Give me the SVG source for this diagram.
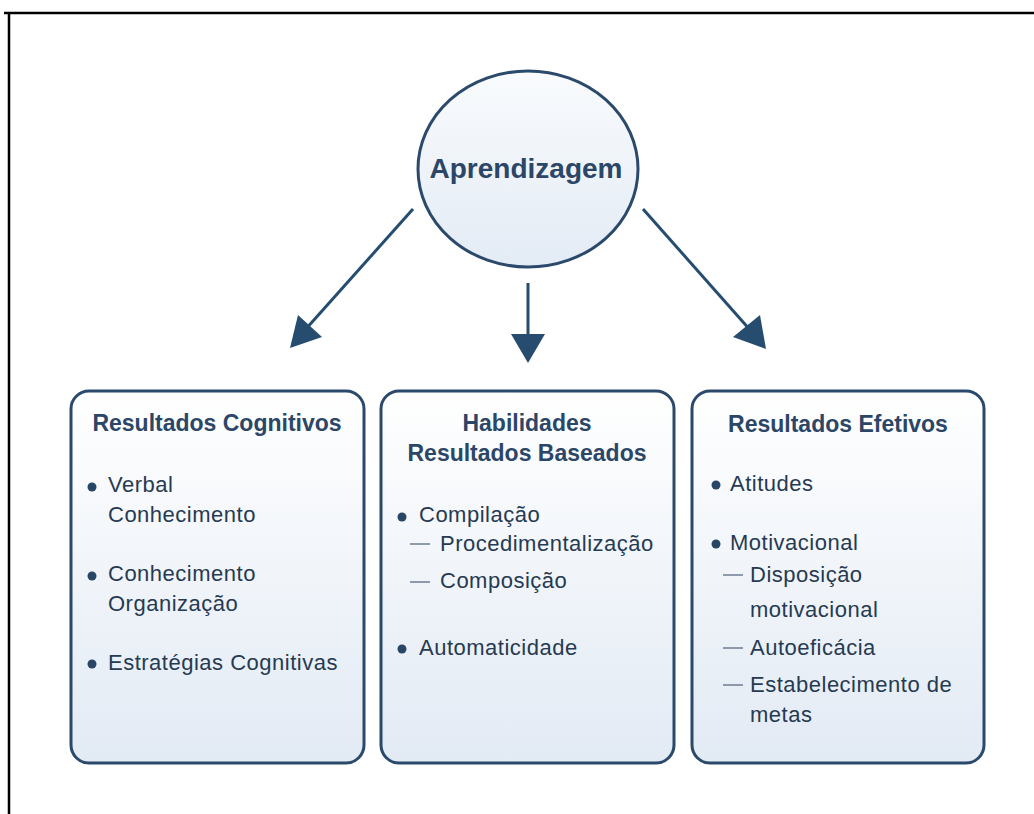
<svg xmlns="http://www.w3.org/2000/svg" width="1034" height="814" viewBox="0 0 1034 814">
<defs>
<linearGradient id="boxg" x1="0" y1="0" x2="0" y2="1">
<stop offset="0" stop-color="#ffffff"/>
<stop offset="1" stop-color="#e2eaf4"/>
</linearGradient>
<linearGradient id="circg" x1="0" y1="0" x2="0" y2="1">
<stop offset="0" stop-color="#f9fbfd"/>
<stop offset="1" stop-color="#e3ebf5"/>
</linearGradient>
<style>
.frame{stroke:#000;stroke-width:2.5;fill:none}
.box{fill:url(#boxg);stroke:#2b4a6b;stroke-width:3}
.hd{font-family:"Liberation Sans",Arial,sans-serif;font-weight:bold;font-size:23px;fill:#2b4666;text-anchor:middle}
.tx{font-family:"Liberation Sans",Arial,sans-serif;font-size:22px;letter-spacing:0.5px;fill:#263a52}
.dot{fill:#284665}
.dash{stroke:#6f7d92;stroke-width:1.5}
.conn{stroke:#264d70;stroke-width:3;fill:none}
.head{fill:#264d70}
</style>
</defs>
<rect width="1034" height="814" fill="#ffffff"/>
<path class="frame" d="M4,13 H1034 M9,13 V814"/>

<g id="aprendizagem">
<ellipse cx="528" cy="169" rx="110" ry="98" fill="url(#circg)" stroke="#2b4a6b" stroke-width="3"/>
<text x="526" y="178" style="font-family:'Liberation Sans',Arial,sans-serif;font-weight:bold;font-size:28px;fill:#2b4666;text-anchor:middle">Aprendizagem</text>
</g>

<g id="connectors">
<line class="conn" x1="413" y1="209" x2="305" y2="330"/>
<polygon class="head" points="290,348 298,315 322,337"/>
<line class="conn" x1="528" y1="283" x2="528" y2="336"/>
<polygon class="head" points="528,363 511,334 545,334"/>
<line class="conn" x1="643" y1="209" x2="751" y2="331"/>
<polygon class="head" points="766,349 760,315 733,337"/>
</g>

<g id="resultados-cognitivos">
<rect class="box" x="71" y="391" width="293" height="372" rx="18"/>
<text class="hd" x="217" y="431">Resultados Cognitivos</text>
<circle class="dot" cx="92" cy="487" r="4.5"/>
<text class="tx" x="108" y="492">Verbal</text>
<text class="tx" x="108" y="522">Conhecimento</text>
<circle class="dot" cx="92" cy="576" r="4.5"/>
<text class="tx" x="108" y="581">Conhecimento</text>
<text class="tx" x="108" y="611">Organização</text>
<circle class="dot" cx="92" cy="664" r="4.5"/>
<text class="tx" x="108" y="670">Estratégias Cognitivas</text>
</g>

<g id="habilidades">
<rect class="box" x="381" y="391" width="293" height="372" rx="18"/>
<text class="hd" x="527" y="431">Habilidades</text>
<text class="hd" x="527" y="461">Resultados Baseados</text>
<circle class="dot" cx="402" cy="517" r="4.5"/>
<text class="tx" x="419" y="522">Compilação</text>
<line class="dash" x1="410" y1="544" x2="430" y2="544"/>
<text class="tx" x="440" y="551">Procedimentalização</text>
<line class="dash" x1="410" y1="582" x2="430" y2="582"/>
<text class="tx" x="440" y="588">Composição</text>
<circle class="dot" cx="402" cy="649" r="4.5"/>
<text class="tx" x="419" y="655">Automaticidade</text>
</g>

<g id="resultados-efetivos">
<rect class="box" x="692" y="391" width="292" height="372" rx="18"/>
<text class="hd" x="838" y="432">Resultados Efetivos</text>
<circle class="dot" cx="716" cy="485" r="4.5"/>
<text class="tx" x="730" y="491">Atitudes</text>
<circle class="dot" cx="716" cy="544" r="4.5"/>
<text class="tx" x="730" y="550">Motivacional</text>
<line class="dash" x1="723" y1="575" x2="743" y2="575"/>
<text class="tx" x="750" y="582">Disposição</text>
<text class="tx" x="750" y="617">motivacional</text>
<line class="dash" x1="723" y1="648" x2="743" y2="648"/>
<text class="tx" x="750" y="655">Autoeficácia</text>
<line class="dash" x1="723" y1="685" x2="743" y2="685"/>
<text class="tx" x="750" y="692">Estabelecimento de</text>
<text class="tx" x="750" y="722">metas</text>
</g>
</svg>
